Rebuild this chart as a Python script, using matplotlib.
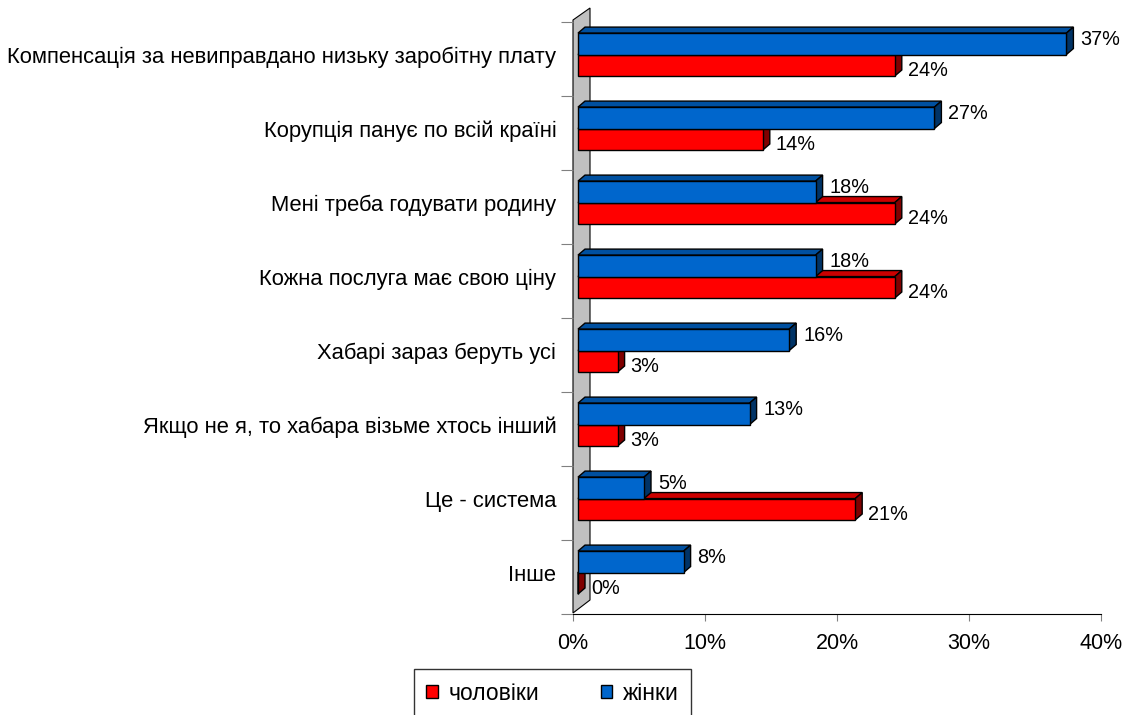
import matplotlib.pyplot as plt
from matplotlib.patches import Polygon, Patch

categories = [
    "Компенсація за невиправдано низьку заробітну плату",
    "Корупція панує по всій країні",
    "Мені треба годувати родину",
    "Кожна послуга має свою ціну",
    "Хабарі зараз беруть усі",
    "Якщо не я, то хабара візьме хтось інший",
    "Це - система",
    "Інше",
]
women = [37, 27, 18, 18, 16, 13, 5, 8]
men = [24, 14, 24, 24, 3, 3, 21, 0]
xticks = [0, 10, 20, 30, 40]

plt.rcParams['font.family'] = ['Liberation Sans', 'DejaVu Sans']

W, H = 1134, 715
fig = plt.figure(figsize=(W / 100, H / 100), dpi=100)
# axes spans x 573..1101 px, y 22..614 px
ax = fig.add_axes([573 / W, (H - 614) / H, 528 / W, 592 / H])
ax.set_xlim(0, 40)
ax.set_ylim(7.5, -0.5)

pxx = 40 / 528      # data units per px (x)
pxy = 8 / 592       # data units per px (y)

# back wall (grey, skewed)
wall = Polygon([(0, -0.5 - 2 * pxy), (17 * pxx, -0.5 - 14 * pxy),
                (17 * pxx, 7.5 - 14 * pxy), (0, 7.5 - 1 * pxy)],
               closed=True, facecolor='#C0C0C0', edgecolor='black',
               lw=0.8, clip_on=False, zorder=1)
ax.add_patch(wall)

d0 = 5 * pxx
ddx = 7 * pxx
ddy = -6 * pxy
bh = 0.29
shift = -0.06


def bar3d(y_top, v, front, top, side, show_top=True):
    x1 = d0 + v
    y_bot = y_top + bh
    if show_top:
        ax.add_patch(Polygon([(d0, y_top), (x1, y_top), (x1 + ddx, y_top + ddy),
                              (d0 + ddx, y_top + ddy)], closed=True,
                             facecolor=top, edgecolor='black', lw=1,
                             clip_on=False, zorder=3))
    ax.add_patch(Polygon([(x1, y_top), (x1 + ddx, y_top + ddy),
                          (x1 + ddx, y_bot + ddy), (x1, y_bot)], closed=True,
                         facecolor=side, edgecolor='black', lw=1,
                         clip_on=False, zorder=3))
    ax.barh(y_top, v, height=bh, left=d0, align='edge', color=front,
            edgecolor='black', lw=1, zorder=3)


for i in range(len(categories)):
    c = i + shift
    # men (lower bar), drawn first
    bar3d(c, men[i], '#FF0000', '#CC0000', '#800000')
    ax.text(d0 + men[i] + ddx + 6 * pxx, c + bh / 2 + 5 * pxy, f"{men[i]}%",
            va='center', ha='left', fontsize=14.3, zorder=5)
    # women (upper bar)
    bar3d(c - bh, women[i], '#0066CC', '#0050A0', '#003366')
    ax.text(d0 + women[i] + ddx + 7 * pxx, c - bh / 2 - 4 * pxy, f"{women[i]}%",
            va='center', ha='left', fontsize=14.3, zorder=5)

for s in ['top', 'right', 'left']:
    ax.spines[s].set_visible(False)
ax.spines['bottom'].set_color('black')
ax.spines['bottom'].set_linewidth(0.8)

ax.set_xticks(xticks)
ax.set_xticklabels([f"{t}%" for t in xticks], fontsize=15.5)
ax.tick_params(axis='x', length=5, width=0.8, color='#808080', pad=9)

ax.set_yticks([i + shift for i in range(len(categories))])
ax.set_yticklabels(categories, fontsize=15.8)
ax.tick_params(axis='y', which='major', length=0, pad=12)
ax.set_yticks([i - 0.5 for i in range(len(categories) + 1)], minor=True)
ax.tick_params(axis='y', which='minor', length=9, width=0.8, color='#808080')

handles = [Patch(facecolor='#FF0000', edgecolor='black', label='чоловіки'),
           Patch(facecolor='#0066CC', edgecolor='black', label='жінки')]
leg = fig.legend(handles=handles, loc='center', ncol=2,
                 bbox_to_anchor=(552.5 / W, 1 - 693 / H), fontsize=16.5,
                 frameon=True, fancybox=False, edgecolor='black',
                 handlelength=0.5, handleheight=0.5, handletextpad=0.45,
                 columnspacing=2.7, borderpad=0.55, borderaxespad=0)
leg.get_frame().set_linewidth(1)

fig.savefig("out.png", dpi=100)
